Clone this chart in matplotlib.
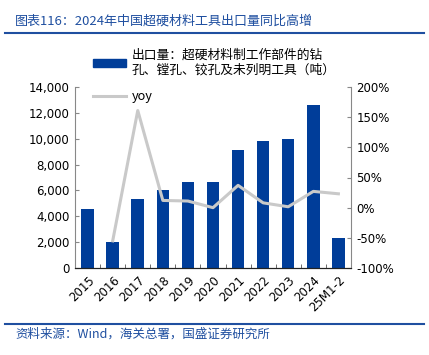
import matplotlib
matplotlib.use("Agg")
import matplotlib.pyplot as plt
from matplotlib.ticker import FuncFormatter, MultipleLocator
from matplotlib.lines import Line2D
import numpy as np

plt.rcParams['font.family'] = ['DejaVu Sans', 'Noto Sans CJK SC']

categories = ["2015", "2016", "2017", "2018", "2019", "2020", "2021", "2022", "2023", "2024", "25M1-2"]
export_tons = [4550, 2050, 5350, 6000, 6650, 6650, 9100, 9800, 9950, 12600, 2300]
yoy = [np.nan, -55, 161, 12, 11, 0, 37, 8, 1.5, 27, 23]

title = "图表116：2024年中国超硬材料工具出口量同比高增"
source = "资料来源：Wind，海关总署，国盛证券研究所"
bar_label = "出口量：超硬材料制工作部件的钻\n孔、镗孔、铰孔及未列明工具（吨）"
line_label = "yoy"

blue = "#003d99"
grey = "#c9c9c9"
title_blue = "#1f4fa0"

fig = plt.figure(figsize=(4.29, 3.55), dpi=100)
ax = fig.add_axes([0.175, 0.245, 0.643, 0.51])
ax2 = ax.twinx()

x = np.arange(len(categories))
ax.bar(x, export_tons, width=0.5, color=blue, zorder=2)
ax2.plot(x, yoy, color=grey, lw=2.2, zorder=3)

ax.set_ylim(0, 14000)
ax.yaxis.set_major_locator(MultipleLocator(2000))
ax.yaxis.set_major_formatter(FuncFormatter(lambda v, p: f"{int(v):,}"))
ax2.set_ylim(-100, 200)
ax2.yaxis.set_major_locator(MultipleLocator(50))
ax2.yaxis.set_major_formatter(FuncFormatter(lambda v, p: f"{int(v)}%"))
ax.set_xlim(-0.5, len(categories) - 0.5)

ax.set_xticks(x)
ax.set_xticklabels(categories, rotation=45, ha='right', rotation_mode='anchor', fontsize=8.5)
ax.set_xticks(np.arange(-0.5, len(categories), 1), minor=True)
ax.tick_params(axis='x', which='major', length=0, pad=4)
ax.tick_params(axis='x', which='minor', length=3, direction='in', color='#555555')
ax.tick_params(axis='y', direction='in', length=3, labelsize=8.5, color='#888888', pad=4)
ax2.tick_params(axis='y', direction='in', length=3, labelsize=8.5, color='#888888', pad=4)

for a in (ax, ax2):
    a.spines['top'].set_visible(False)
    a.spines['left'].set_color('#888888')
    a.spines['right'].set_color('#888888')
    a.spines['bottom'].set_color('#222222')
ax.spines['right'].set_visible(False)
ax2.spines['left'].set_visible(False)

handles = [
    plt.Rectangle((0, 0), 1, 1, color=blue),
    Line2D([0], [0], color=grey, lw=2.2),
]
fig.legend(handles, [bar_label, line_label], loc='upper left', bbox_to_anchor=(0.205, 0.878),
           frameon=False, handlelength=2.6, handleheight=0.6,
           labelspacing=1.1, handletextpad=0.4, borderaxespad=0,
           prop={'family': ['Noto Sans CJK SC', 'DejaVu Sans'], 'size': 9.2})

fig.text(0.035, 0.942, title, color=title_blue, fontsize=9.4, style='italic',
         family=['Noto Sans CJK SC', 'DejaVu Sans'], va='center')
fig.add_artist(Line2D([0.012, 0.988], [0.906, 0.906], color=title_blue, lw=1.5))
fig.add_artist(Line2D([0.012, 0.988], [0.087, 0.087], color=title_blue, lw=1.5))
fig.text(0.035, 0.058, source, color=title_blue, fontsize=9, style='italic',
         family=['Noto Sans CJK SC', 'DejaVu Sans'], va='center')

fig.savefig("out.png", dpi=100)
